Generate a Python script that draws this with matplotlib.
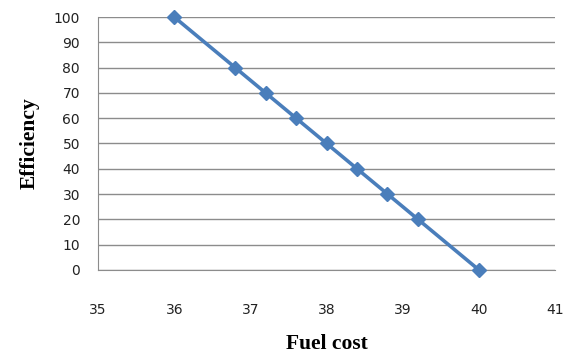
import matplotlib
matplotlib.use("Agg")
from matplotlib import pyplot as plt

fuel_cost = [36, 36.8, 37.2, 37.6, 38, 38.4, 38.8, 39.2, 40]
efficiency = [100, 80, 70, 60, 50, 40, 30, 20, 0]

fig = plt.figure(figsize=(5.64, 3.56), dpi=100)
ax = fig.add_axes([0.174, 0.242, 0.81, 0.71])

ax.plot(fuel_cost, efficiency, color="#4a7ebb", linewidth=2.6,
        marker="D", markersize=7, zorder=3, clip_on=False)

ax.set_xlim(35, 41)
ax.set_ylim(0, 100)
ax.set_xticks(range(35, 42))
ax.set_yticks(range(0, 101, 10))
ax.yaxis.grid(True, color="#8c8c8c", linewidth=1)
ax.set_axisbelow(True)
for s in ["top", "right"]:
    ax.spines[s].set_visible(False)
ax.spines["left"].set_color("#8c8c8c")
ax.spines["bottom"].set_color("#8c8c8c")
ax.tick_params(axis="x", length=0, pad=24, labelsize=10, labelcolor="#222222")
ax.tick_params(axis="y", length=0, pad=13, labelsize=10, labelcolor="#222222")

ax.set_xlabel("Fuel cost", family="Liberation Serif", fontweight="bold",
              fontsize=15.5, labelpad=12)
ax.set_ylabel("Efficiency", family="Liberation Serif", fontweight="bold",
              fontsize=15.5, labelpad=10)

fig.savefig("out.png", dpi=100)
